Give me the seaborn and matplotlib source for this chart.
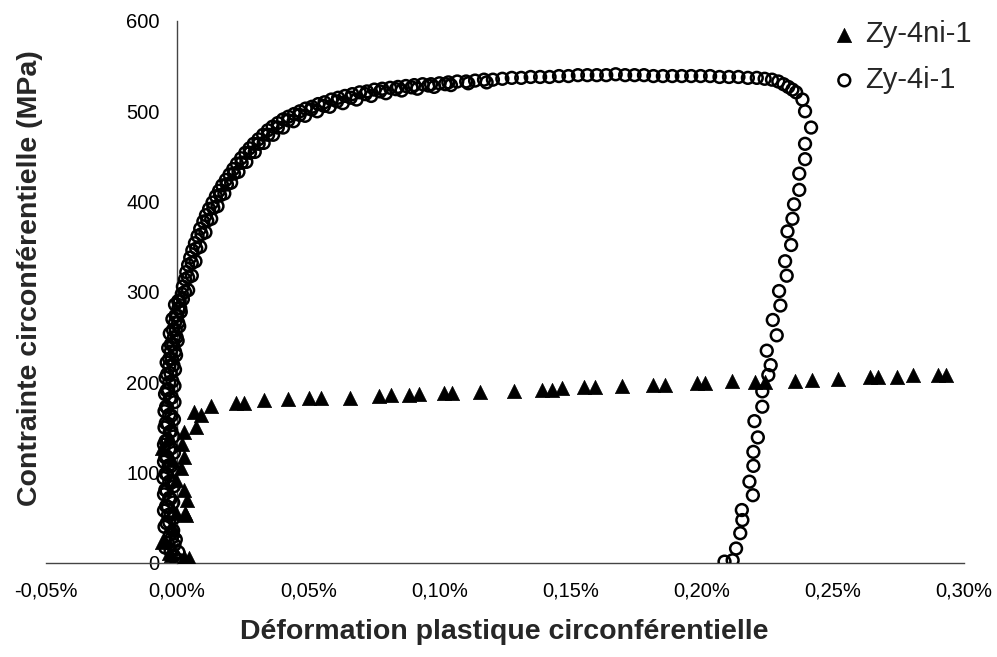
import pandas as pd
import matplotlib
matplotlib.use('Agg')
import matplotlib.pyplot as plt
from matplotlib.ticker import FuncFormatter
import seaborn as sns

# Zy-4ni-1 (triangles): plastic strain in %, hoop stress in MPa
ni_strain = [0.0046, 0.0027, -0.0024, -0.0030, -0.0049, -0.0056, -0.0011, 0.0030,
             0.0033, -0.0005, 0.0039, 0.0027, -0.0005, 0.0014, -0.0018, 0.0027,
             -0.0056, 0.0020, -0.0030, 0.0027, 0.0071, 0.0065, 0.0090, 0.0128,
             0.0224, 0.0255, 0.0331, 0.0424, 0.0503, 0.0547, 0.0659, 0.0769,
             0.0814, 0.0883, 0.0922, 0.1017, 0.1048, 0.1156, 0.1283, 0.1391,
             0.1429, 0.1467, 0.1550, 0.1594, 0.1696, 0.1816, 0.1861, 0.1981,
             0.2013, 0.2115, 0.2204, 0.2242, 0.2356, 0.2419, 0.2521, 0.2642,
             0.2673, 0.2743, 0.2806, 0.2901, 0.2933]
ni_stress = [5, 7, 9, 11, 25, 23, 36, 55,
             53, 55, 70, 81, 92, 105, 114, 117,
             127, 132, 140, 145, 150, 167, 164, 173.5,
             177, 177, 180, 181, 182.6, 182.6, 183, 184.5,
             185.6, 185.6, 187.5, 188, 188, 189, 190, 192,
             192, 194, 195, 195, 195.6, 197.5, 197.5, 199,
             199, 201, 200, 200, 202, 203, 204, 206,
             206, 206, 208, 208, 208]

# Zy-4i-1 (open circles): loading then unloading
i_strain = [0.0010, 0.0005, -0.0010, -0.0020, -0.0015, -0.0030, -0.0025, -0.0035,
            -0.0030, -0.0040, -0.0030, -0.0038, -0.0032, -0.0040, -0.0030, -0.0036,
            -0.0028, -0.0035, -0.0030, -0.0038, -0.0028, -0.0034, -0.0030, -0.0025,
            -0.0030, -0.0020, -0.0024, -0.0015, -0.0012, -0.0005, -0.0008, 0.0000,
            0.0005, 0.0010, 0.0018, 0.0022, 0.0030, 0.0035, 0.0042, 0.0050,
            0.0058, 0.0068, 0.0078, 0.0088, 0.0100, 0.0110, 0.0122, 0.0135,
            0.0148, 0.0160, 0.0172, 0.0186, 0.0200, 0.0214, 0.0228, 0.0244,
            0.0260, 0.0276, 0.0292, 0.0310, 0.0328, 0.0346, 0.0364, 0.0384,
            0.0404, 0.0424, 0.0446, 0.0468, 0.0490, 0.0514, 0.0538, 0.0562,
            0.0588, 0.0614, 0.0640, 0.0668, 0.0696, 0.0724, 0.0752, 0.0782,
            0.0812, 0.0842, 0.0872, 0.0904, 0.0936, 0.0968, 0.1000, 0.1034,
            0.1068, 0.1102, 0.1136, 0.1170, 0.1204, 0.1240, 0.1276, 0.1312,
            0.1348, 0.1384, 0.1420, 0.1456, 0.1492, 0.1528, 0.1564, 0.1600,
            0.1636, 0.1672, 0.1708, 0.1744, 0.1780, 0.1816, 0.1852, 0.1888,
            0.1924, 0.1960, 0.1996, 0.2032, 0.2068, 0.2104, 0.2140, 0.2176,
            0.2210, 0.2240, 0.2268, 0.2292, 0.2312, 0.2330, 0.2346, 0.2360,
            0.2384, 0.2394, 0.2417, 0.2394, 0.2394, 0.2372, 0.2372, 0.2352,
            0.2346, 0.2327, 0.2341, 0.2318, 0.2324, 0.2295, 0.2300, 0.2271,
            0.2286, 0.2248, 0.2263, 0.2254, 0.2231, 0.2231, 0.2201, 0.2214,
            0.2197, 0.2197, 0.2182, 0.2195, 0.2153, 0.2155, 0.2147, 0.2131,
            0.2118, 0.2087,
            # further passes through the dense loading band
            -0.0012, -0.0045, -0.0005, -0.0048, -0.0012, -0.0050, -0.0015, -0.0050,
            -0.0012, -0.0052, -0.0015, -0.0050, -0.0012, -0.0050, -0.0014, -0.0048,
            -0.0012, -0.0048, -0.0010, -0.0046, -0.0010, -0.0044, -0.0008, -0.0040,
            -0.0004, -0.0034, 0.0002, -0.0028, 0.0008, -0.0018, 0.0014, -0.0008,
            0.0022, 0.0042, 0.0056, 0.0070, 0.0088, 0.0108, 0.0130, 0.0154,
            0.0180, 0.0206, 0.0234, 0.0264, 0.0296, 0.0330, 0.0366, 0.0404,
            0.0444, 0.0488, 0.0534, 0.0582, 0.0632, 0.0684, 0.0740, 0.0796,
            0.0856, 0.0916, 0.0980, 0.1044, 0.1110, 0.1180,
            -0.0005, -0.0025, -0.0035, -0.0028, -0.0040, -0.0035, -0.0042, -0.0025,
            -0.0045, -0.0022, -0.0044, -0.0024, -0.0045, -0.0022, -0.0044, -0.0022,
            -0.0043, -0.0022, -0.0042, -0.0020, -0.0040, -0.0018, -0.0038, -0.0014,
            -0.0030, -0.0008, -0.0024, -0.0002, -0.0016, 0.0004, -0.0006, 0.0012,
            0.0004, 0.0030, 0.0042, 0.0056, 0.0073, 0.0093, 0.0115, 0.0138,
            0.0164, 0.0190, 0.0217, 0.0246, 0.0278, 0.0311, 0.0347, 0.0384,
            0.0424, 0.0467, 0.0512, 0.0560, 0.0610, 0.0662, 0.0718, 0.0774,
            0.0834, 0.0894, 0.0958, 0.1022]
i_stress = [3, 12, 20, 28, 36, 45, 54, 62,
            72, 80, 90, 98, 108, 118, 126, 136,
            145, 154, 164, 172, 182, 192, 200, 210,
            218, 226, 234, 242, 250, 258, 266, 274,
            282, 290, 298, 306, 314, 322, 330, 338,
            346, 354, 362, 370, 378, 385, 392, 399,
            406, 412, 418, 424, 430, 436, 442, 448,
            454, 459, 464, 469, 474, 479, 483, 487,
            491, 494, 497, 500, 503, 505, 508, 510,
            513, 515, 517, 519, 521, 522, 524, 525,
            526, 527, 528, 529, 530, 530, 531, 532,
            533, 533, 534, 535, 535, 536, 537, 537,
            538, 538, 538, 539, 539, 540, 540, 540,
            540, 541, 540, 540, 540, 539, 539, 539,
            539, 539, 539, 539, 538, 538, 538, 537,
            537, 536, 535, 533, 530, 527, 524, 521,
            513, 500, 482, 464, 447, 431, 413, 397,
            381, 367, 352, 334, 318, 301, 285, 269,
            252, 235, 219, 208, 190, 173, 157, 139,
            123, 107.5, 90, 75, 58.6, 47.5, 33, 16,
            3, 1.5,
            8, 17, 26, 40, 50, 58, 67, 76,
            85, 94, 103, 112, 122, 131, 140, 150,
            159, 168, 178, 187, 196, 205, 214, 222,
            230, 238, 246, 254, 262, 270, 278, 286,
            292, 302, 318, 334, 350, 366, 381, 395,
            409, 421, 433, 444, 455, 465, 474, 482,
            489, 495, 500, 505, 509, 513, 517, 520,
            523, 525, 527, 529, 531, 532,
            4, 13, 22, 31, 44, 53, 63, 71,
            81, 89, 99, 107, 117, 127, 135, 146,
            155, 163, 173, 183, 191, 201, 209, 219,
            226, 234, 242, 250, 258, 266, 274, 282,
            290, 300, 316, 332, 348, 364, 379, 393,
            407, 419, 431, 443, 454, 464, 474, 482,
            490, 496, 502, 506, 511, 515, 519, 522,
            524.5, 526.5, 528.5, 530]

x_ticks = [-0.05, 0.0, 0.05, 0.10, 0.15, 0.20, 0.25, 0.30]
y_ticks = [0, 100, 200, 300, 400, 500, 600]

ni = pd.DataFrame({'strain': ni_strain, 'stress': ni_stress})
ii = pd.DataFrame({'strain': i_strain, 'stress': i_stress})

sns.set_theme(style='white')
plt.rcParams['font.family'] = ['Liberation Sans', 'DejaVu Sans']

fig = plt.figure(figsize=(9.97, 6.57), dpi=100)
ax = fig.add_axes([0.0461, 0.1431, 0.9208, 0.8250])

sns.scatterplot(data=ni, x='strain', y='stress', marker='^', s=105,
                color='black', edgecolor='black', linewidth=0.5,
                label='Zy-4ni-1', ax=ax, zorder=3)
sns.scatterplot(data=ii, x='strain', y='stress', marker='o', s=72,
                facecolor='none', edgecolor='black', linewidth=1.8,
                label='Zy-4i-1', ax=ax, zorder=4)

ax.set_xlim(-0.05, 0.30)
ax.set_ylim(0, 600)
ax.set_xticks(x_ticks)
ax.set_yticks(y_ticks)
ax.xaxis.set_major_formatter(FuncFormatter(lambda v, p: f'{v:.2f}%'.replace('.', ',')))

# axes cross at the origin, no box
for side in ['top', 'right']:
    ax.spines[side].set_visible(False)
ax.spines['left'].set_position(('data', 0))
for side in ['left', 'bottom']:
    ax.spines[side].set_color('#444444')
    ax.spines[side].set_linewidth(1.0)
ax.tick_params(axis='both', direction='inout', length=9, width=1.0,
               color='#444444', labelsize=14.5, labelcolor='black')
ax.tick_params(axis='x', pad=9)
ax.tick_params(axis='y', pad=8)
ax.set_xlabel('')
ax.set_ylabel('')

fig.text(0.5055, 0.038, 'Déformation plastique circonférentielle',
         ha='center', va='center', fontsize=20.5, fontweight='bold')
fig.text(0.030, 0.577, 'Contrainte circonférentielle (MPa)', rotation=90,
         ha='center', va='center', fontsize=20.5, fontweight='bold')

ax.legend(loc='upper left', bbox_to_anchor=(0.8176, 0.991),
          bbox_transform=fig.transFigure, frameon=False, fontsize=21,
          handlelength=1.0, handletextpad=0.2, labelspacing=0.6,
          borderpad=0, markerscale=1.0)

fig.savefig('out.png', dpi=100, facecolor='white')
